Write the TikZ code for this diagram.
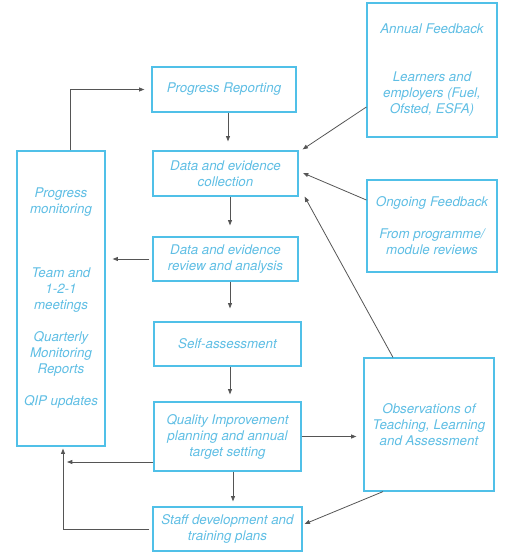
\documentclass[tikz,border=0pt]{standalone}
\usepackage{fontspec}
\setmainfont{TeX Gyre Heros}
\usetikzlibrary{arrows.meta}

\definecolor{boxblue}{RGB}{80,192,232}
\definecolor{txtblue}{RGB}{95,190,228}
\definecolor{arrgray}{RGB}{85,85,85}

\tikzset{every picture/.style={line width=0.75pt}}
\tikzset{
  qbox/.style={draw=boxblue, line width=0.9pt, align=center, inner sep=0pt,
    text=txtblue, font=\fontsize{10}{12}\selectfont\itshape},
  flow/.style={draw=arrgray, line width=0.6pt, -{Triangle[length=4pt,width=3pt]}}
}

\begin{document}
\begin{tikzpicture}[x=0.75pt,y=0.75pt,yscale=-1,xscale=1]
        \useasboundingbox (0,0) rectangle (521,558);

        %Shape: centre column
        \node [qbox, minimum width=144*0.75pt, minimum height=45*0.75pt] (report) at (224,89.5) {Progress Reporting};
        \node [qbox, minimum width=145*0.75pt, minimum height=45*0.75pt] (collect) at (225.5,173.5) {Data and evidence\\collection};
        \node [qbox, minimum width=145*0.75pt, minimum height=44*0.75pt] (review) at (225.5,259) {Data and evidence\\review and analysis};
        \node [qbox, minimum width=147*0.75pt, minimum height=44*0.75pt] (selfass) at (227.5,344) {Self-assessment};
        \node [qbox, minimum width=147*0.75pt, minimum height=69*0.75pt] (qip) at (227.5,436.5) {Quality Improvement\\planning and annual\\target setting};
        \node [qbox, minimum width=149*0.75pt, minimum height=44*0.75pt] (staff) at (227.5,529) {Staff development and\\training plans};

        %Shape: left column
        \node [qbox, minimum width=88*0.75pt, minimum height=295*0.75pt] (monitor) at (61,298.5) {Progress\\monitoring\\[36pt]Team and\\1-2-1\\meetings\\[12pt]Quarterly\\Monitoring\\Reports\\[12pt]QIP updates};

        %Shape: right column
        \node [qbox, minimum width=130*0.75pt, minimum height=134*0.75pt] (annual) at (432,70) {Annual Feedback\\[24pt]Learners and\\employers (Fuel,\\Ofsted, ESFA)};
        \node [qbox, minimum width=130*0.75pt, minimum height=92*0.75pt] (ongoing) at (432,226) {Ongoing Feedback\\[12pt]From programme/\\module reviews};
        \node [qbox, minimum width=130*0.75pt, minimum height=133*0.75pt] (observe) at (429,424.5) {Observations of\\Teaching, Learning\\and Assessment};

        % Arrows
        \draw [flow] (monitor.north -| 70,0) |- ([xshift=-5.25pt]report.west);
        \draw [flow] (report.south -| 228,0) -- ([yshift=-6.75pt]collect.north -| 228,0);
        \draw [flow] (collect.south -| 230,0) -- ([yshift=-8.25pt]review.north -| 230,0);
        \draw [flow] ([xshift=-2.25pt]review.west) -- ([xshift=5.25pt]monitor.east |- review.west);
        \draw [flow] (review.south -| 230,0) -- ([yshift=-9.75pt]selfass.north -| 230,0);
        \draw [flow] (selfass.south -| 230,0) -- ([yshift=-5.25pt]qip.north -| 230,0);
        \draw [flow] (qip.east) -- ([xshift=-5.25pt]observe.west |- qip.east);
        \draw [flow] (qip.west |- 0,462) -- (67,462);
        \draw [flow] (qip.south -| 233,0) -- ([yshift=-3.75pt]staff.north -| 233,0);
        \draw [flow] ([xshift=-2.25pt]staff.west) -| ([yshift=1.5pt]monitor.south -| 63,0);
        \draw [flow] (observe.south -| 383,0) -- ([xshift=1.5pt,yshift=-3.75pt]staff.east);
        \draw [flow] (observe.north -| 393,0) -- ([xshift=4.5pt]collect.south east);
        \draw [flow] (annual.west |- 0,107) -- ([xshift=3pt,yshift=-0.75pt]collect.north east);
        \draw [flow] (ongoing.west |- 0,200) -- (303,173);

    \end{tikzpicture}
\end{document}
